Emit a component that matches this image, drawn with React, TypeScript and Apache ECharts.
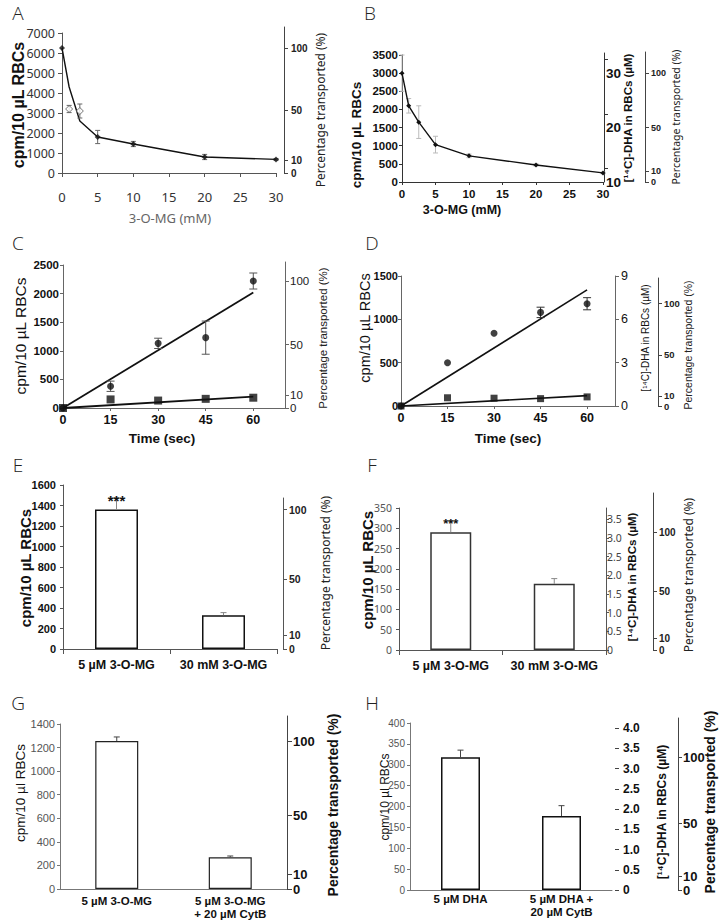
import React, { useEffect, useRef } from "react";
import * as echarts from "echarts";

// ---------------- DATA ----------------
// Panel A: 3-O-MG uptake inhibition
const aConc = [0, 1, 2.5, 5, 10, 20, 30];
const aUptake = [6250, 3200, 3100, 1800, 1450, 800, 680];
const aSem = [0, 180, 350, 330, 130, 130, 40];
const aFit = [6250, 4300, 2600, 1800, 1450, 800, 680];
const aOpen = [false, true, true, false, false, false, false];
const aControl = 6250; // = 100 %
// Panel B: DHA uptake inhibition
const bConc = [0, 1, 2.5, 5, 10, 20, 30];
const bUptake = [3000, 2100, 1650, 1030, 720, 470, 250];
const bSem = [500, 200, 450, 230, 50, 30, 20];
const bControl = 3000;
const bDhaOffset = 10; // µM at 0 cpm
const bCpmPerMicroM = 150;
// Panel C: time course 3-O-MG
const cTime = [0, 15, 30, 45, 60];
const cCircle = [0, 380, 1130, 1230, 2220];
const cCircleSem = [0, 90, 90, 290, 140];
const cSquare = [0, 150, 130, 160, 180];
const cFitTime = [0, 60];
const cCircleFit = [0, 2020];
const cSquareFit = [0, 200];
const cControl = 2220;
// Panel D: time course DHA
const dTime = [0, 15, 30, 45, 60];
const dCircle = [0, 500, 840, 1080, 1180];
const dCircleSem = [0, 0, 0, 60, 70];
const dSquare = [0, 95, 90, 85, 105];
const dFitTime = [0, 60];
const dCircleFit = [0, 1340];
const dSquareFit = [0, 120];
const dControl = 1180;
const dCpmPerMicroM = 166.6;
// Panel E
const eCats = ["5 µM 3-O-MG", "30 mM 3-O-MG"];
const eVals = [1360, 330];
const eSem = [115, 25];
const eSig = ["***", ""];
// Panel F
const fCats = ["5 µM 3-O-MG", "30 mM 3-O-MG"];
const fVals = [290, 163];
const fSem = [28, 13];
const fSig = ["***", ""];
const fCpmPerMicroM = 92;
// Panel G
const gCats = ["5 µM 3-O-MG", "5 µM 3-O-MG\n+ 20 µM CytB"];
const gVals = [1255, 270];
const gSem = [35, 10];
// Panel H
const hCats = ["5 µM DHA", "5 µM DHA +\n20 µM CytB"];
const hVals = [318, 177];
const hSem = [17, 25];
const hCpmPerMicroM = 97;
// tick labels
const aYTicks = [0, 1000, 2000, 3000, 4000, 5000, 6000, 7000];
const bYTicks = [0, 500, 1000, 1500, 2000, 2500, 3000, 3500];
const cYTicks = [0, 500, 1000, 1500, 2000, 2500];
const dYTicks = [0, 500, 1000, 1500];
const eYTicks = [0, 200, 400, 600, 800, 1000, 1200, 1400, 1600];
const fYTicks = [0, 50, 100, 150, 200, 250, 300, 350];
const gYTicks = [0, 200, 400, 600, 800, 1000, 1200, 1400];
const hYTicks = [0, 50, 100, 150, 200, 250, 300, 350, 400];
const concTicks = [0, 5, 10, 15, 20, 25, 30];
const timeTicks = [0, 15, 30, 45, 60];
const pctTicks = [0, 10, 50, 100];
const bDhaTicks = [10, 20, 30];
const bDhaMinor = [12.5, 22.5, 32.5];
const dDhaTicks = [0, 3, 6, 9];
const fDhaTicks = [0, 0.5, 1, 1.5, 2, 2.5, 3, 3.5];
const hDhaTicks = [0, 0.5, 1, 1.5, 2, 2.5, 3, 3.5, 4];

const ARIAL = "'Liberation Sans', Arial, sans-serif";
const NOTO = "'Noto Sans', 'Open Sans', sans-serif";
const plain = (v: number) => String(v);

function buildOption() {
  const grids: any[] = [];
  const xAxis: any[] = [];
  const yAxis: any[] = [];
  const series: any[] = [];
  const graphic: any[] = [];

  const grid = (left: number, top: number, width: number, height: number) => {
    grids.push({ left, top, width, height, containLabel: false, outerBoundsMode: "none" });
    return grids.length - 1;
  };
  const lab = (fontSize: number, fontWeight: any, color: string, fontFamily: string, margin: number) => ({
    fontSize, fontWeight, color, fontFamily, margin, showMinLabel: true, showMaxLabel: true, hideOverlap: false,
  });

  const valueX = (g: number, o: any) => {
    xAxis.push({
      gridIndex: g, type: "value", min: o.min, max: o.max,
      axisLine: { show: true, onZero: false, lineStyle: { color: o.color, width: 1 } },
      axisTick: { show: true, length: o.tickLen, lineStyle: { color: o.color }, customValues: o.ticks },
      axisLabel: { ...o.label, customValues: o.ticks, formatter: plain },
      splitLine: { show: false },
    });
    return xAxis.length - 1;
  };
  const catX = (g: number, cats: string[], o: any) => {
    xAxis.push({
      gridIndex: g, type: "category", data: cats, boundaryGap: true,
      axisLine: { show: true, onZero: false, lineStyle: { color: o.color, width: 1 } },
      axisTick: { show: o.tickLen > 0, length: o.tickLen, lineStyle: { color: o.color } },
      axisLabel: { ...o.label, interval: 0, lineHeight: o.lineHeight || 14 },
      splitLine: { show: false },
    });
    return xAxis.length - 1;
  };
  const leftY = (g: number, o: any) => {
    yAxis.push({
      gridIndex: g, type: "value", min: 0, max: o.ticks[o.ticks.length - 1], position: "left",
      axisLine: { show: true, onZero: false, lineStyle: { color: o.color, width: 1 } },
      axisTick: { show: true, length: o.tickLen, lineStyle: { color: o.color }, customValues: o.ticks },
      axisLabel: { ...o.label, customValues: o.ticks, formatter: plain },
      splitLine: { show: false },
    });
    return yAxis.length - 1;
  };
  // extra right-hand axis drawn in its own thin grid
  const sideAxis = (o: any) => {
    const g = grid(o.x - 1, o.top, 1, o.bottom - o.top);
    xAxis.push({ gridIndex: g, type: "value", show: false, min: 0, max: 1 });
    const cpmTop = (o.leftMax * (o.bottom - o.top)) / (o.bottom - o.gridTop);
    const min = o.off || 0;
    const max = min + o.k * cpmTop;
    yAxis.push({
      gridIndex: g, type: "value", position: "right", min, max,
      axisLine: { show: o.line !== false, onZero: false, lineStyle: { color: o.color || "#444", width: 1 } },
      axisTick: { show: true, inside: false, length: o.tickLen, lineStyle: { color: o.color || "#444" }, customValues: o.ticks || o.labels },
      axisLabel: { ...o.label, customValues: o.labels, formatter: o.fmt || plain },
      splitLine: { show: false },
    });
  };
  const errBars = (xi: number, yi: number, data: number[][], color: string, cap: number, both: boolean, sig?: string[], sigSize?: number) => {
    series.push({
      type: "custom", xAxisIndex: xi, yAxisIndex: yi, data, z: 4, silent: true,
      renderItem: (params: any, api: any) => {
        const x = api.value(0), lo = api.value(1), hi = api.value(2);
        const a = api.coord([x, lo]);
        const b = api.coord([x, hi]);
        const ch: any[] = [
          { type: "line", shape: { x1: a[0], y1: a[1], x2: b[0], y2: b[1] }, style: { stroke: color, lineWidth: 1 } },
        ];
        if (cap > 0) {
          ch.push({ type: "line", shape: { x1: b[0] - cap, y1: b[1], x2: b[0] + cap, y2: b[1] }, style: { stroke: color, lineWidth: 1 } });
          if (both) ch.push({ type: "line", shape: { x1: a[0] - cap, y1: a[1], x2: a[0] + cap, y2: a[1] }, style: { stroke: color, lineWidth: 1 } });
        }
        const s = sig ? sig[params.dataIndex] : "";
        if (s) {
          ch.push({
            type: "text", x: b[0], y: b[1] + 3,
            style: { text: s, fontSize: sigSize || 14, fontWeight: "bold", fontFamily: ARIAL, fill: "#111", align: "center", verticalAlign: "middle", textAlign: "center", textVerticalAlign: "middle" },
          });
        }
        return { type: "group", children: ch };
      },
    });
  };
  const vText = (x: number, y: number, text: string, size: number, weight: any, family: string, color = "#111") => {
    graphic.push({
      type: "text", x, y, rotation: Math.PI / 2,
      style: { text, fontSize: size, fontWeight: weight, fontFamily: family, fill: color, align: "center", verticalAlign: "middle", textAlign: "center", textVerticalAlign: "middle" },
    });
  };
  const hText = (x: number, y: number, text: string, size: number, weight: any, family: string, color = "#111") => {
    graphic.push({
      type: "text", x, y,
      style: { text, fontSize: size, fontWeight: weight, fontFamily: family, fill: color, align: "center", verticalAlign: "middle", textAlign: "center", textVerticalAlign: "middle" },
    });
  };
  const letter = (x: number, y: number, t: string) => hText(x, y, t, 19, 300, "'Open Sans', 'Noto Sans', sans-serif", "#222");
  const pair = (xs: number[], ys: number[]) => xs.map((x, i) => [x, ys[i]]);
  const dec = (v: number) => (v === 0 ? "0" : v.toFixed(1));

  // ---------- A ----------
  {
    const g = grid(62, 33, 214, 140);
    const xi = valueX(g, { min: 0, max: 30, ticks: concTicks, color: "#555", tickLen: 4, label: lab(13, "normal", "#333", NOTO, 17) });
    const yi = leftY(g, { ticks: aYTicks, color: "#555", tickLen: 4, label: lab(12.5, "normal", "#333", NOTO, 7) });
    series.push({ type: "line", xAxisIndex: xi, yAxisIndex: yi, data: pair(aConc, aFit), symbol: "none", lineStyle: { color: "#111", width: 1.4 }, z: 3 });
    errBars(xi, yi, aConc.map((x, i) => [x, aUptake[i] - aSem[i], aUptake[i] + aSem[i]]).filter((d, i) => aSem[i] > 0), "#666", 2.5, true);
    series.push({ type: "scatter", xAxisIndex: xi, yAxisIndex: yi, data: pair(aConc, aUptake).filter((d, i) => !aOpen[i]), symbol: "diamond", symbolSize: 6, itemStyle: { color: "#111" }, z: 5 });
    series.push({ type: "scatter", xAxisIndex: xi, yAxisIndex: yi, data: pair(aConc, aUptake).filter((d, i) => aOpen[i]), symbol: "diamond", symbolSize: 7, itemStyle: { color: "#fff", borderColor: "#555", borderWidth: 1 }, z: 5 });
    sideAxis({ x: 284, top: 27, bottom: 173, gridTop: 33, leftMax: 7000, k: 100 / aControl, labels: pctTicks, tickLen: 4, color: "#444", label: lab(10, "bold", "#222", ARIAL, 7) });
    letter(18, 13, "A");
    vText(18, 105, "cpm/10 µL RBCs", 16, "bold", ARIAL);
    hText(170, 218, "3-O-MG (mM)", 13, "normal", NOTO, "#666");
    vText(320, 110, "Percentage transported (%)", 12, "normal", NOTO, "#222");
  }
  // ---------- B ----------
  {
    const g = grid(402, 55, 201, 127);
    const xi = valueX(g, { min: 0, max: 30, ticks: concTicks, color: "#333", tickLen: 3, label: lab(11.5, "bold", "#111", ARIAL, 6) });
    const yi = leftY(g, { ticks: bYTicks, color: "#333", tickLen: 3, label: lab(11.5, "bold", "#111", ARIAL, 4) });
    errBars(xi, yi, bConc.map((x, i) => [x, bUptake[i] - bSem[i], bUptake[i] + bSem[i]]), "#bbb", 2.5, true);
    series.push({ type: "line", xAxisIndex: xi, yAxisIndex: yi, data: pair(bConc, bUptake), symbol: "diamond", symbolSize: 5, itemStyle: { color: "#111" }, lineStyle: { color: "#111", width: 1.4 }, z: 5 });
    sideAxis({ x: 604, top: 53, bottom: 182, gridTop: 55, leftMax: 3500, k: 1 / bCpmPerMicroM, off: bDhaOffset, labels: bDhaTicks, ticks: bDhaMinor, tickLen: 4, color: "#333", label: lab(13.5, "bold", "#111", ARIAL, 2) });
    sideAxis({ x: 645, top: 52, bottom: 182, gridTop: 55, leftMax: 3500, k: 100 / bControl, labels: pctTicks, tickLen: 4, color: "#444", label: lab(9, "bold", "#222", ARIAL, 6) });
    letter(370, 13, "B");
    vText(356, 135, "cpm/10 µL RBCs", 13.5, "bold", ARIAL);
    hText(462, 210, "3-O-MG (mM)", 12.5, "bold", ARIAL);
    vText(628, 118, "[¹⁴C]-DHA in RBCs (µM)", 11.5, "bold", ARIAL);
    vText(676, 117, "Percentage transported (%)", 10.5, "normal", NOTO, "#222");
  }
  // ---------- C ----------
  {
    const g = grid(63, 265, 222, 143);
    const xi = valueX(g, { min: 0, max: 70, color: "#666", tickLen: 3, ticks: timeTicks, label: lab(12.5, "bold", "#111", ARIAL, 5) });
    const yi = leftY(g, { ticks: cYTicks, color: "#666", tickLen: 3, label: lab(11.5, "bold", "#111", ARIAL, 4) });
    series.push({ type: "line", xAxisIndex: xi, yAxisIndex: yi, data: pair(cFitTime, cCircleFit), symbol: "none", lineStyle: { color: "#111", width: 1.8 }, z: 3 });
    series.push({ type: "line", xAxisIndex: xi, yAxisIndex: yi, data: pair(cFitTime, cSquareFit), symbol: "none", lineStyle: { color: "#111", width: 1.8 }, z: 3 });
    errBars(xi, yi, cTime.map((x, i) => [x, cCircle[i] - cCircleSem[i], cCircle[i] + cCircleSem[i]]).filter((d, i) => cCircleSem[i] > 0), "#555", 4, true);
    series.push({ type: "scatter", xAxisIndex: xi, yAxisIndex: yi, data: pair(cTime, cCircle), symbol: "circle", symbolSize: 7, itemStyle: { color: "#111" }, z: 5 });
    series.push({ type: "scatter", xAxisIndex: xi, yAxisIndex: yi, data: pair(cTime, cSquare), symbol: "rect", symbolSize: 8, itemStyle: { color: "#111" }, z: 5 });
    sideAxis({ x: 285, top: 262, bottom: 408, gridTop: 265, leftMax: 2500, k: 100 / cControl, labels: pctTicks, tickLen: 4, color: "#666", label: lab(11.5, "normal", "#222", ARIAL, 5) });
    letter(18, 243, "C");
    vText(20, 336, "cpm/10 µL RBCs", 15.5, "normal", ARIAL);
    hText(162, 438, "Time (sec)", 13.5, "bold", ARIAL);
    vText(323, 338, "Percentage transported (%)", 11.5, "normal", ARIAL, "#222");
  }
  // ---------- D ----------
  {
    const g = grid(401, 276, 214, 130);
    const xi = valueX(g, { min: 0, max: 69, color: "#666", tickLen: 3, ticks: timeTicks, label: lab(12.5, "bold", "#111", ARIAL, 5) });
    const yi = leftY(g, { ticks: dYTicks, color: "#666", tickLen: 3, label: lab(11, "bold", "#111", ARIAL, 3) });
    series.push({ type: "line", xAxisIndex: xi, yAxisIndex: yi, data: pair(dFitTime, dCircleFit), symbol: "none", lineStyle: { color: "#111", width: 1.6 }, z: 3 });
    series.push({ type: "line", xAxisIndex: xi, yAxisIndex: yi, data: pair(dFitTime, dSquareFit), symbol: "none", lineStyle: { color: "#111", width: 1.6 }, z: 3 });
    errBars(xi, yi, dTime.map((x, i) => [x, dCircle[i] - dCircleSem[i], dCircle[i] + dCircleSem[i]]).filter((d, i) => dCircleSem[i] > 0), "#333", 4, true);
    series.push({ type: "scatter", xAxisIndex: xi, yAxisIndex: yi, data: pair(dTime, dCircle), symbol: "circle", symbolSize: 7, itemStyle: { color: "#111" }, z: 5 });
    series.push({ type: "scatter", xAxisIndex: xi, yAxisIndex: yi, data: pair(dTime, dSquare), symbol: "rect", symbolSize: 7, itemStyle: { color: "#111" }, z: 5 });
    sideAxis({ x: 615, top: 276, bottom: 406, gridTop: 276, leftMax: 1500, k: 1 / dCpmPerMicroM, labels: dDhaTicks, tickLen: 4, color: "#666", label: lab(12.5, "normal", "#111", ARIAL, 6) });
    sideAxis({ x: 658, top: 278, bottom: 406, gridTop: 276, leftMax: 1500, k: 100 / dControl, labels: pctTicks, tickLen: 4, color: "#444", label: lab(9.5, "bold", "#222", ARIAL, 6) });
    letter(372, 243, "D");
    vText(365, 328, "cpm/10 µL RBCs", 14.5, "normal", ARIAL);
    hText(508, 438, "Time (sec)", 13.5, "bold", ARIAL);
    vText(645, 338, "[¹⁴C]-DHA in RBCs (µM)", 10, "normal", ARIAL);
    vText(688, 345, "Percentage transported (%)", 10.5, "normal", ARIAL, "#222");
  }
  // ---------- E ----------
  {
    const g = grid(63, 485, 214, 164);
    const xi = catX(g, eCats, { color: "#555", tickLen: 5, label: lab(12.5, "bold", "#111", ARIAL, 9) });
    const yi = leftY(g, { ticks: eYTicks, color: "#555", tickLen: 3, label: lab(11, "bold", "#111", ARIAL, 7) });
    series.push({ type: "bar", xAxisIndex: xi, yAxisIndex: yi, data: eVals, barWidth: 43, itemStyle: { color: "#fff", borderColor: "#111", borderWidth: 1.5 }, z: 3 });
    errBars(xi, yi, eVals.map((v, i) => [i, v, v + eSem[i]]), "#888", 3, false, eSig, 15);
    sideAxis({ x: 283, top: 498, bottom: 649, gridTop: 485, leftMax: 1600, k: 100 / eVals[0], labels: pctTicks, tickLen: 4, color: "#555", label: lab(10.5, "bold", "#222", ARIAL, 6) });
    letter(18, 465, "E");
    vText(25, 568, "cpm/10 µL RBCs", 15, "bold", ARIAL);
    vText(325, 573, "Percentage transported (%)", 12, "normal", NOTO, "#222");
  }
  // ---------- F ----------
  {
    const g = grid(399, 508, 207, 142);
    const xi = catX(g, fCats, { color: "#555", tickLen: 5, label: lab(12.5, "bold", "#111", ARIAL, 9) });
    const yi = leftY(g, { ticks: fYTicks, color: "#555", tickLen: 3, label: lab(10.5, "normal", "#555", NOTO, 7) });
    series.push({ type: "bar", xAxisIndex: xi, yAxisIndex: yi, data: fVals, barWidth: 41, itemStyle: { color: "#fff", borderColor: "#333", borderWidth: 1.5 }, z: 3 });
    errBars(xi, yi, fVals.map((v, i) => [i, v, v + fSem[i]]), "#888", 3, false, fSig, 13);
    sideAxis({ x: 606, top: 508, bottom: 650, gridTop: 508, leftMax: 350, k: 1 / fCpmPerMicroM, labels: fDhaTicks, tickLen: 3, color: "#555", fmt: dec, label: lab(10.5, "normal", "#444", NOTO, 1) });
    sideAxis({ x: 653, top: 493, bottom: 650, gridTop: 508, leftMax: 350, k: 100 / fVals[0], labels: pctTicks, tickLen: 4, color: "#444", label: lab(10, "bold", "#222", ARIAL, 6) });
    letter(372, 465, "F");
    vText(367, 570, "cpm/10 µL RBCs", 15, "bold", ARIAL);
    vText(632, 577, "[¹⁴C]-DHA in RBCs (µM)", 11.5, "bold", ARIAL);
    vText(688, 575, "Percentage transported (%)", 12, "normal", NOTO, "#222");
  }
  // ---------- G ----------
  {
    const g = grid(60, 724, 227, 165);
    const xi = catX(g, gCats, { color: "#777", tickLen: 0, lineHeight: 13, label: lab(11.5, "bold", "#111", ARIAL, 5) });
    const yi = leftY(g, { ticks: gYTicks, color: "#777", tickLen: 3, label: lab(11, "normal", "#555", ARIAL, 5) });
    series.push({ type: "bar", xAxisIndex: xi, yAxisIndex: yi, data: gVals, barWidth: 43, itemStyle: { color: "#fff", borderColor: "#222", borderWidth: 1.2 }, z: 3 });
    errBars(xi, yi, gVals.map((v, i) => [i, v, v + gSem[i]]), "#444", 3, false);
    sideAxis({ x: 287, top: 716, bottom: 889, gridTop: 724, leftMax: 1400, k: 100 / gVals[0], labels: pctTicks, tickLen: 5, color: "#444", label: lab(13, "bold", "#111", ARIAL, 6) });
    letter(18, 703, "G");
    vText(20, 793, "cpm/10 µl RBCs", 13.5, "normal", ARIAL);
    vText(333, 805, "Percentage transported (%)", 14, "bold", ARIAL);
  }
  // ---------- H ----------
  {
    const g = grid(410, 723, 202, 167);
    const xi = catX(g, hCats, { color: "#777", tickLen: 0, lineHeight: 13, label: lab(11.5, "bold", "#111", ARIAL, 2) });
    const yi = leftY(g, { ticks: hYTicks, color: "#777", tickLen: 3, label: lab(10, "normal", "#555", ARIAL, 5) });
    series.push({ type: "bar", xAxisIndex: xi, yAxisIndex: yi, data: hVals, barWidth: 39, itemStyle: { color: "#fff", borderColor: "#111", borderWidth: 1.5 }, z: 3 });
    errBars(xi, yi, hVals.map((v, i) => [i, v, v + hSem[i]]), "#444", 3, false);
    sideAxis({ x: 615, top: 723, bottom: 890, gridTop: 723, leftMax: 400, k: 1 / hCpmPerMicroM, labels: hDhaTicks, tickLen: 4, line: false, color: "#444", fmt: dec, label: lab(12, "bold", "#111", ARIAL, 8) });
    sideAxis({ x: 678, top: 718, bottom: 890, gridTop: 723, leftMax: 400, k: 100 / hVals[0], labels: pctTicks, tickLen: 4, color: "#444", label: lab(13, "bold", "#111", ARIAL, 5) });
    letter(372, 703, "H");
    vText(385, 797, "cpm/10 µl RBCs", 12, "normal", ARIAL);
    vText(662, 812, "[¹⁴C]-DHA in RBCs (µM)", 12, "bold", ARIAL);
    vText(710, 802, "Percentage transported (%)", 14, "bold", ARIAL);
  }

  return {
    animation: false,
    backgroundColor: "#ffffff",
    textStyle: { fontFamily: ARIAL },
    grid: grids,
    xAxis,
    yAxis,
    series,
    graphic: { elements: graphic },
  };
}

export default function App() {
  const ref = useRef<HTMLDivElement>(null);
  useEffect(() => {
    if (!ref.current) return;
    const chart = echarts.init(ref.current, undefined, { renderer: "svg" });
    chart.setOption(buildOption());
    return () => chart.dispose();
  }, []);
  return <div ref={ref} style={{ position: "absolute", left: 0, top: 0, width: 720, height: 923, background: "#fff" }} />;
}
